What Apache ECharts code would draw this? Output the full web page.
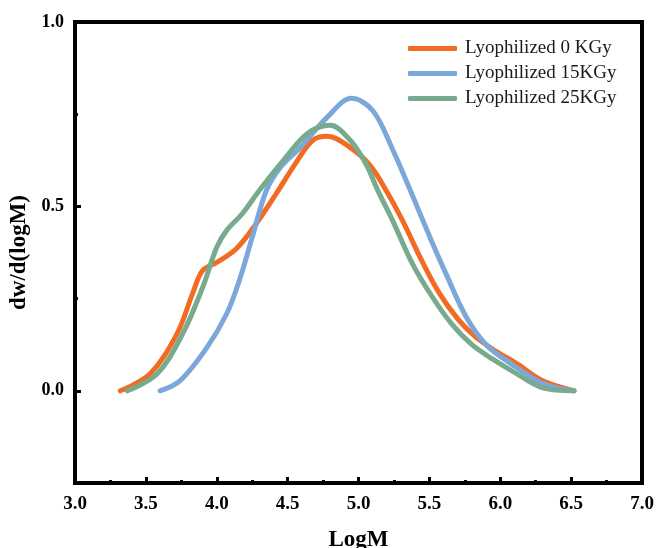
<!DOCTYPE html>
<html><head><meta charset="utf-8">
<script src="https://cdn.jsdelivr.net/npm/echarts@6/dist/echarts.min.js"></script>
<style>html,body{margin:0;padding:0;background:#fff}#c{width:656px;height:548px}</style>
</head><body><div id="c"></div>
<script>
const seriesNames = ['Lyophilized 0 KGy', 'Lyophilized 15KGy', 'Lyophilized 25KGy'];
const logM0  = [3.32, 3.53, 3.72, 3.83, 3.90, 4.00, 4.14, 4.28, 4.42, 4.57, 4.68, 4.78, 4.94, 5.08, 5.20, 5.31, 5.45, 5.57, 5.70, 5.82, 5.95, 6.12, 6.30, 6.52];
const val0   = [0.0, 0.046, 0.155, 0.264, 0.326, 0.348, 0.386, 0.454, 0.535, 0.625, 0.68, 0.69, 0.66, 0.612, 0.54, 0.462, 0.35, 0.265, 0.195, 0.148, 0.112, 0.073, 0.027, 0.0];
const logM15 = [3.60, 3.74, 3.93, 4.07, 4.16, 4.25, 4.35, 4.45, 4.59, 4.78, 4.95, 5.10, 5.24, 5.38, 5.50, 5.62, 5.76, 5.90, 6.07, 6.30, 6.52];
const val15  = [0.0, 0.027, 0.117, 0.209, 0.30, 0.416, 0.543, 0.606, 0.66, 0.742, 0.793, 0.76, 0.655, 0.53, 0.42, 0.315, 0.2, 0.125, 0.075, 0.02, 0.0];
const logM25 = [3.37, 3.58, 3.76, 3.90, 4.00, 4.07, 4.18, 4.30, 4.47, 4.64, 4.80, 4.94, 5.05, 5.14, 5.24, 5.38, 5.52, 5.66, 5.80, 5.95, 6.10, 6.30, 6.52];
const val25  = [0.0, 0.046, 0.155, 0.28, 0.389, 0.435, 0.48, 0.543, 0.625, 0.698, 0.72, 0.68, 0.617, 0.54, 0.462, 0.345, 0.255, 0.18, 0.125, 0.085, 0.05, 0.008, 0.0];
const yLabels = [0, 0.5, 1.0];
const yMajorTicks = [0, 0.5];
const yMinorTicks = [0.25, 0.75];
const colors = ['#F26B22', '#7BA7DA', '#78AA8D'];

const pairs = (xs, ys) => xs.map((x, i) => [x, ys[i]]);
const serif = '"Liberation Serif", "Times New Roman", serif';

const chart = echarts.init(document.getElementById('c'));
const zOrder = [2, 3, 4];
const lineSeries = [[logM0, val0], [logM15, val15], [logM25, val25]].map((d, i) => ({
  name: seriesNames[i], type: 'line', smooth: 0.35, symbol: 'none',
  data: pairs(d[0], d[1]),
  lineStyle: { color: colors[i], width: 5, cap: 'round' },
  itemStyle: { color: colors[i] },
  z: zOrder[i]
}));

chart.setOption({
  animation: false,
  grid: { left: 75, top: 22, right: 14, bottom: 65, containLabel: false, outerBoundsMode: 'none', show: true, borderColor: '#000', borderWidth: 4, backgroundColor: 'transparent' },
  legend: {
    orient: 'vertical', left: 408, top: 39, itemGap: 6, padding: 0,
    icon: 'roundRect', itemWidth: 49, itemHeight: 5,
    textStyle: { fontFamily: serif, fontSize: 19, color: '#1a1a1a', padding: [0, 0, 0, 3] },
    data: seriesNames.map((n, i) => ({ name: n, itemStyle: { color: colors[i] } }))
  },
  xAxis: {
    type: 'value', min: 3, max: 7, interval: 0.5,
    name: 'LogM', nameLocation: 'middle', nameGap: 46,
    nameTextStyle: { fontFamily: serif, fontSize: 23, fontWeight: 'bold', color: '#000' },
    axisLine: { show: true, onZero: false, lineStyle: { color: '#000', width: 4 } },
    axisTick: { show: true, inside: true, length: 6, lineStyle: { color: '#000', width: 3 } },
    minorTick: { show: true, splitNumber: 2, length: 3, lineStyle: { color: '#000', width: 3 } },
    axisLabel: { fontFamily: serif, fontSize: 19, fontWeight: 'bold', color: '#000', margin: 12, formatter: v => v.toFixed(1) },
    splitLine: { show: false }
  },
  yAxis: [{
    type: 'value', min: -0.25, max: 1.0, interval: 0.25,
    name: 'dw/d(logM)', nameLocation: 'middle', nameGap: 42,
    nameTextStyle: { fontFamily: serif, fontSize: 23, fontWeight: 'bold', color: '#000' },
    axisLine: { show: true, onZero: false, lineStyle: { color: '#000', width: 4 } },
    axisTick: { show: true, inside: true, length: 6, customValues: yMajorTicks, lineStyle: { color: '#000', width: 3 } },
    axisLabel: { fontFamily: serif, fontSize: 18, fontWeight: 'bold', color: '#000', margin: 11, customValues: yLabels, formatter: v => v.toFixed(1) },
    splitLine: { show: false }
  }, {
    type: 'value', min: -0.25, max: 1.0, interval: 0.25, position: 'left',
    axisLine: { show: false, onZero: false },
    axisTick: { show: true, inside: true, length: 3, customValues: yMinorTicks, lineStyle: { color: '#000', width: 3 } },
    axisLabel: { show: false },
    splitLine: { show: false }
  }],
  series: lineSeries
});
</script></body></html>
